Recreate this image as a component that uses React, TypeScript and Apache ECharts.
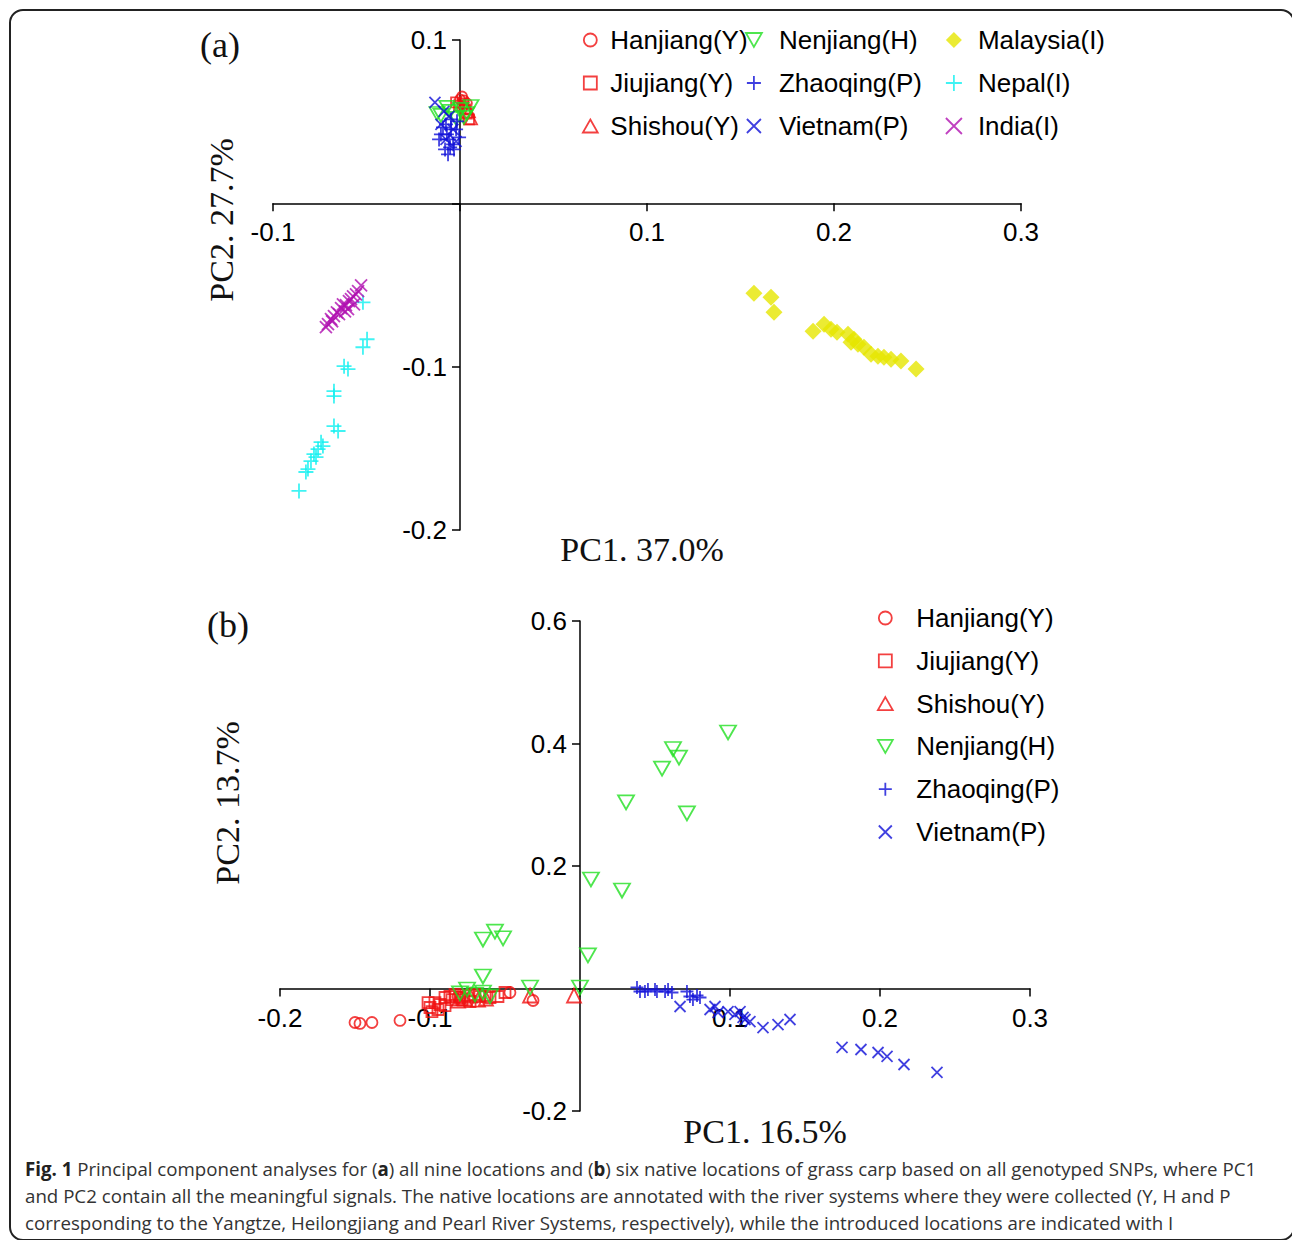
import React, { useEffect, useRef } from 'react';
import * as echarts from 'echarts';

// ---------- Data: panel (a), all nine locations ----------
const hanjiangA = [[0.0011, 0.0654], [0.0021, 0.063], [0.0, 0.0636], [0.0037, 0.0612]];
const jiujiangA = [[-0.0021, 0.0618], [-0.0005, 0.0599], [0.0016, 0.0612], [0.0048, 0.0514], [0.0037, 0.055], [0.0027, 0.0575]];
const shishouA = [[0.0048, 0.0563], [0.0059, 0.052], [0.0032, 0.0587]];
const nenjiangA = [[-0.0102, 0.0538], [-0.0053, 0.0563], [0.0005, 0.0575], [0.0037, 0.055], [-0.0021, 0.052], [-0.007, 0.0587], [0.0059, 0.0593], [0.0021, 0.0526], [-0.0123, 0.055]];
const zhaoqingA = [[-0.0075, 0.0483], [-0.0048, 0.0453], [-0.0102, 0.0422], [-0.0059, 0.0391], [-0.0037, 0.0361], [-0.008, 0.033], [-0.0064, 0.03], [-0.0021, 0.0453], [-0.0005, 0.0404], [-0.0091, 0.0465], [-0.0048, 0.0514], [-0.007, 0.0422], [-0.0032, 0.033], [-0.0112, 0.0391], [-0.0053, 0.0343], [-0.0016, 0.0502]];
const vietnamA = [[-0.0134, 0.0618], [-0.0059, 0.0532], [-0.0102, 0.0483], [-0.0037, 0.0453], [-0.0075, 0.0391], [-0.0021, 0.0379], [-0.0086, 0.0563]];
const malaysiaA = [[0.1572, -0.055], [0.1663, -0.0575], [0.1679, -0.0667], [0.1888, -0.0783], [0.1947, -0.074], [0.1984, -0.0771], [0.2075, -0.0801], [0.2107, -0.0832], [0.2128, -0.0862], [0.216, -0.0881], [0.2198, -0.0924], [0.2235, -0.0936], [0.2267, -0.0942], [0.2305, -0.0954], [0.2358, -0.0966], [0.2439, -0.1015], [0.2091, -0.085], [0.2016, -0.0789]];
const nepalA = [[-0.0519, -0.0606], [-0.0497, -0.0832], [-0.0519, -0.0881], [-0.062, -0.0997], [-0.0599, -0.1015], [-0.0674, -0.115], [-0.0674, -0.118], [-0.0674, -0.1364], [-0.0652, -0.1394], [-0.0743, -0.1462], [-0.0759, -0.1505], [-0.0781, -0.1535], [-0.0797, -0.1578], [-0.0813, -0.1627], [-0.0824, -0.1645], [-0.0861, -0.1761], [-0.0733, -0.1486], [-0.077, -0.1554]];
const indiaA = [[-0.0529, -0.0502], [-0.0545, -0.0538], [-0.0572, -0.0569], [-0.0594, -0.0599], [-0.061, -0.0624], [-0.0636, -0.0642], [-0.0658, -0.0667], [-0.0674, -0.0691], [-0.069, -0.0709], [-0.0706, -0.074], [-0.0717, -0.0758], [-0.0626, -0.0618], [-0.0583, -0.0587], [-0.0556, -0.0557], [-0.0647, -0.0679], [-0.0599, -0.0648], [-0.0567, -0.0618], [-0.0684, -0.0722], [-0.0615, -0.0661]];

// ---------- Data: panel (b), six native locations ----------
const hanjiangB = [[-0.15, -0.0555], [-0.1467, -0.0571], [-0.1387, -0.0555], [-0.12, -0.0522], [-0.0467, -0.0065], [-0.0313, -0.0196], [-0.0813, -0.0131]];
const jiujiangB = [[-0.1, -0.031], [-0.0967, -0.0229], [-0.0933, -0.0261], [-0.09, -0.0147], [-0.0867, -0.0131], [-0.0833, -0.0098], [-0.08, -0.0147], [-0.0747, -0.0114], [-0.07, -0.0098], [-0.0667, -0.0131], [-0.06, -0.0147], [-0.0547, -0.0131], [-0.05, -0.0065], [-0.0947, -0.0343], [-0.0853, -0.018], [-0.0787, -0.018], [-0.0733, -0.0212], [-0.0633, -0.0114], [-0.0987, -0.0376], [-0.09, -0.0278], [-0.1013, -0.0229]];
const shishouB = [[-0.0733, -0.0114], [-0.068, -0.018], [-0.0767, -0.0163], [-0.0333, -0.0114], [-0.004, -0.0114], [-0.0627, -0.0163], [-0.0813, -0.0196]];
const nenjiangB = [[0.0987, 0.418], [0.062, 0.391], [0.066, 0.377], [0.0547, 0.359], [0.0307, 0.304], [0.0713, 0.286], [0.0073, 0.178], [0.028, 0.16], [-0.0567, 0.093], [-0.0647, 0.08], [-0.0513, 0.082], [0.0053, 0.054], [-0.0647, 0.0196], [-0.0333, 0.0016], [0.0, 0.0016], [-0.0753, -0.0016], [-0.0647, -0.0065], [-0.07, -0.0098], [-0.06, -0.013], [-0.08, -0.008]];
const zhaoqingB = [[0.038, 0.0016], [0.0433, -0.0049], [0.0513, -0.0049], [0.0587, -0.0016], [0.0613, -0.0065], [0.0713, -0.0049], [0.0733, -0.0131], [0.08, -0.0147], [0.0453, -0.0016], [0.05, -0.0016], [0.0567, -0.0049], [0.0753, -0.018], [0.04, -0.0049], [0.078, -0.0114]];
const vietnamB = [[0.0667, -0.0294], [0.0867, -0.0343], [0.09, -0.0294], [0.092, -0.0392], [0.1033, -0.0424], [0.1067, -0.0376], [0.1087, -0.0473], [0.1133, -0.0539], [0.122, -0.0637], [0.132, -0.0588], [0.14, -0.0506], [0.1747, -0.0963], [0.1873, -0.0996], [0.1987, -0.1045], [0.2047, -0.111], [0.216, -0.1241], [0.238, -0.1371], [0.0987, -0.0376], [0.11, -0.0506]];

// ---------- Labels ----------
const legendA1 = ['Hanjiang(Y)', 'Jiujiang(Y)', 'Shishou(Y)'];
const legendA2 = ['Nenjiang(H)', 'Zhaoqing(P)', 'Vietnam(P)'];
const legendA3 = ['Malaysia(I)', 'Nepal(I)', 'India(I)'];
const legendB = ['Hanjiang(Y)', 'Jiujiang(Y)', 'Shishou(Y)', 'Nenjiang(H)', 'Zhaoqing(P)', 'Vietnam(P)'];
const titleXA = 'PC1. 37.0%';
const titleYA = 'PC2. 27.7%';
const titleXB = 'PC1. 16.5%';
const titleYB = 'PC2. 13.7%';
const captionLines = [
  '{b|Fig. 1} Principal component analyses for ({b|a}) all nine locations and ({b|b}) six native locations of grass carp based on all genotyped SNPs, where PC1',
  'and PC2 contain all the meaningful signals. The native locations are annotated with the river systems where they were collected (Y, H and P',
  'corresponding to the Yangtze, Heilongjiang and Pearl River Systems, respectively), while the introduced locations are indicated with I',
];

// axis ranges
const rangeXA = [-0.1, 0.3];
const rangeYA = [-0.2, 0.1];
const rangeXB = [-0.2, 0.3];
const rangeYB = [-0.2, 0.6];

const SYM = {
  circle: 'path://M1,0 A1,1 0 1 1 -1,0 A1,1 0 1 1 1,0 Z',
  square: 'path://M-1,-1 L1,-1 L1,1 L-1,1 Z',
  triUp: 'path://M0,-1 L1,0.75 L-1,0.75 Z',
  triDown: 'path://M-1,-0.75 L1,-0.75 L0,1 Z',
  plus: 'path://M0,-1 L0,1 M-1,0 L1,0',
  cross: 'path://M-1,-1 L1,1 M-1,1 L1,-1',
  diamond: 'path://M0,-1 L1,0 L0,1 L-1,0 Z',
};

const RED = '#f01010';
const GREEN = '#22e022';
const BLUE = '#1010d8';
const CYAN = '#10f0f0';
const PURPLE = '#b010b0';
const YELLOW = '#e6e600';

const STYLE: Record<string, { sym: string; color: string; filled?: boolean }> = {
  'Hanjiang(Y)': { sym: SYM.circle, color: RED },
  'Jiujiang(Y)': { sym: SYM.square, color: RED },
  'Shishou(Y)': { sym: SYM.triUp, color: RED },
  'Nenjiang(H)': { sym: SYM.triDown, color: GREEN },
  'Zhaoqing(P)': { sym: SYM.plus, color: BLUE },
  'Vietnam(P)': { sym: SYM.cross, color: BLUE },
  'Malaysia(I)': { sym: SYM.diamond, color: YELLOW, filled: true },
  'Nepal(I)': { sym: SYM.plus, color: CYAN },
  'India(I)': { sym: SYM.cross, color: PURPLE },
};

function itemStyleFor(name: string) {
  const s = STYLE[name];
  return s.filled
    ? { color: s.color, borderWidth: 0 }
    : { color: 'rgba(0,0,0,0)', borderColor: s.color, borderWidth: 1.8 };
}

function series(name: string, data: number[][], size: number | number[], grid: number) {
  return {
    type: 'scatter',
    name,
    xAxisIndex: grid,
    yAxisIndex: grid,
    data,
    symbol: STYLE[name].sym,
    symbolSize: size,
    itemStyle: itemStyleFor(name),
    emphasis: { disabled: true },
  };
}

const SANS = '"Liberation Sans", Arial, sans-serif';
const SERIF = '"Liberation Serif", "Times New Roman", serif';

function legend(names: string[], left: number, top: number, itemWidth: number, itemHeight: number, gap: number) {
  return {
    orient: 'vertical',
    left,
    top,
    itemWidth,
    itemHeight,
    itemGap: gap,
    symbolKeepAspect: true,
    selectedMode: false,
    textStyle: { fontFamily: SANS, fontSize: 26, color: '#000', lineHeight: 30 },
    data: names.map((n) => ({ name: n, icon: STYLE[n].sym, itemStyle: itemStyleFor(n) })),
  };
}

function fmt(v: number) {
  if (Math.abs(v) < 1e-9) return '';
  return String(Math.round(v * 10) / 10);
}

// Axis placed through the other axis's zero via an offset (keeps labels on the line)
function axis(grid: number, range: number[], interval: number, isX: boolean, offset: number) {
  return {
    gridIndex: grid,
    type: 'value',
    min: range[0],
    max: range[1],
    interval,
    position: isX ? 'bottom' : 'left',
    offset,
    axisLine: { onZero: false, lineStyle: { color: '#000', width: 1.5 } },
    axisTick: { show: true, length: 8, lineStyle: { color: '#000', width: 1.5 } },
    axisLabel: { formatter: fmt, fontFamily: SANS, fontSize: 26, color: '#000', margin: isX ? 16 : 13 },
    splitLine: { show: false },
  };
}

function text(t: string, x: number, y: number, size: number, font: string, rotation = 0) {
  return {
    type: 'text',
    x,
    y,
    rotation,
    style: { text: t, fontFamily: font, fontSize: size, fill: '#111', align: 'center', verticalAlign: 'middle' },
  };
}

const GA = { left: 273, top: 40, width: 748, height: 490 };
const GB = { left: 280, top: 621, width: 750, height: 490 };

// distance from grid's bottom edge to y=0, and from grid's left edge to x=0
function zeroOffsets(g: typeof GA, rx: number[], ry: number[]) {
  const yFromBottom = (g.height * (0 - ry[0])) / (ry[1] - ry[0]);
  const xFromLeft = (g.width * (0 - rx[0])) / (rx[1] - rx[0]);
  return { xAxisOffset: -yFromBottom, yAxisOffset: -xFromLeft };
}

export default function App() {
  const ref = useRef<HTMLDivElement>(null);
  useEffect(() => {
    if (!ref.current) return;
    const chart = echarts.init(ref.current, undefined, { renderer: 'svg' });
    const oa = zeroOffsets(GA, rangeXA, rangeYA);
    const ob = zeroOffsets(GB, rangeXB, rangeYB);
    const option = {
      animation: false,
      backgroundColor: '#fff',
      grid: [GA, GB],
      xAxis: [axis(0, rangeXA, 0.1, true, oa.xAxisOffset), axis(1, rangeXB, 0.1, true, ob.xAxisOffset)],
      yAxis: [axis(0, rangeYA, 0.1, false, oa.yAxisOffset), axis(1, rangeYB, 0.2, false, ob.yAxisOffset)],
      legend: [
        legend(legendA1, 577, 20, 30, 13, 13),
        legend(legendA2, 740, 20, 40, 14, 13),
        legend(legendA3, 940, 20, 38, 16, 13),
        legend(legendB, 872, 598, 52, 13, 12.8),
      ],
      series: [
        series('Hanjiang(Y)', hanjiangA, 10, 0),
        series('Jiujiang(Y)', jiujiangA, 10, 0),
        series('Shishou(Y)', shishouA, 12, 0),
        series('Nenjiang(H)', nenjiangA, [15, 13], 0),
        series('Zhaoqing(P)', zhaoqingA, 14, 0),
        series('Vietnam(P)', vietnamA, 11, 0),
        series('Malaysia(I)', malaysiaA, 17, 0),
        series('Nepal(I)', nepalA, 15, 0),
        series('India(I)', indiaA, 12, 0),
        series('Hanjiang(Y)', hanjiangB, 11, 1),
        series('Jiujiang(Y)', jiujiangB, 11, 1),
        series('Shishou(Y)', shishouB, 14, 1),
        series('Nenjiang(H)', nenjiangB, [16, 14], 1),
        series('Zhaoqing(P)', zhaoqingB, 13, 1),
        series('Vietnam(P)', vietnamB, 11, 1),
      ],
      graphic: [
        {
          type: 'rect',
          shape: { x: 10, y: 10, width: 1284, height: 1230, r: 13 },
          style: { fill: 'none', stroke: '#222', lineWidth: 2 },
          silent: true,
        },
        text('(a)', 220, 45, 36, SERIF),
        text('(b)', 228, 625, 36, SERIF),
        text(titleXA, 642, 549, 34, SERIF),
        text(titleYA, 221, 220, 34, SERIF, Math.PI / 2),
        text(titleXB, 765, 1131, 34, SERIF),
        text(titleYB, 227, 803, 34, SERIF, Math.PI / 2),
        ...captionLines.map((line, i) => ({
          type: 'text',
          x: 25,
          y: 1168 + i * 27,
          style: {
            text: line,
            fontFamily: '"Open Sans", sans-serif',
            fontSize: 18.7,
            fill: '#333',
            align: 'left',
            verticalAlign: 'middle',
            rich: {
              b: { fontFamily: '"Open Sans", sans-serif', fontSize: 18.7, fontWeight: 'bold', fill: '#222' },
            },
          },
        })),
      ],
    };
    chart.setOption(option as any);
    return () => chart.dispose();
  }, []);
  return (
    <div
      ref={ref}
      style={{ position: 'absolute', left: 0, top: 0, width: 1292, height: 1240 }}
    />
  );
}
